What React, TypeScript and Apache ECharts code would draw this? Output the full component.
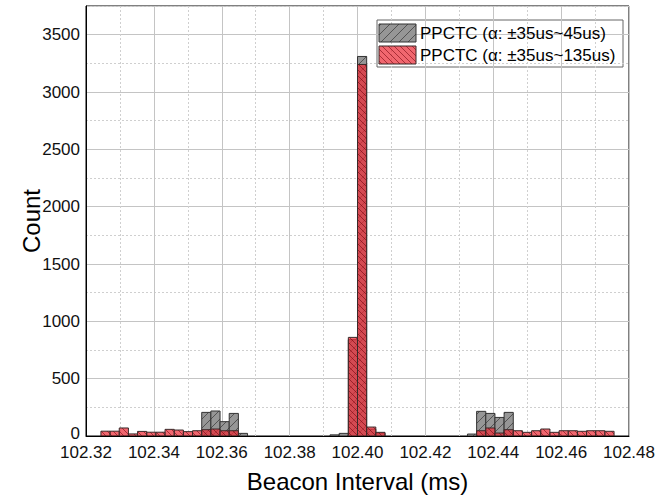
import React, { useEffect, useRef } from "react";
import * as echarts from "echarts";

// Histogram bins (left edge, ms) and counts
const BIN_WIDTH = 0.0027;
const binStarts = [
  102.3244, 102.3271, 102.3298, 102.3325, 102.3352, 102.3379, 102.3406, 102.3433,
  102.346, 102.3487, 102.3514, 102.3541, 102.3568, 102.3595, 102.3622, 102.3649,
  102.3919, 102.3946, 102.3973, 102.4, 102.4027, 102.4054,
  102.4324, 102.4351, 102.4378, 102.4405, 102.4432, 102.4459, 102.4486, 102.4513,
  102.454, 102.4567, 102.4594, 102.4621, 102.4648, 102.4675, 102.4702, 102.4729,
];
const grayCounts = [
  0, 0, 0, 0, 0, 0, 0, 0,
  0, 0, 0, 206, 218, 125, 197, 23,
  10, 23, 840, 3310, 60, 25,
  17, 215, 197, 162, 206, 0, 0, 0,
  0, 0, 0, 0, 0, 0, 0, 0,
];
const redCounts = [
  42, 42, 70, 18, 40, 33, 33, 58,
  52, 38, 46, 55, 61, 46, 46, 0,
  0, 0, 860, 3240, 78, 32,
  0, 46, 70, 26, 55, 46, 32, 46,
  61, 32, 46, 46, 41, 46, 46, 41,
];
const seriesNames = ["PPCTC (\u03b1: \u00b135us~45us)", "PPCTC (\u03b1: \u00b135us~135us)"];
const xTitle = "Beacon Interval (ms)";
const yTitle = "Count";

const FONT = '"Liberation Sans", Arial, Helvetica, sans-serif';

const GRAY = { fill: "#969696", line: "rgba(60,60,60,0.75)", stroke: "#333333", spacing: 9, dir: 1 };
const RED = { fill: "rgba(235,45,55,0.72)", line: "rgba(110,0,10,0.55)", stroke: "#3a2a2a", spacing: 6, dir: -1 };

function hatch(x0: number, y0: number, x1: number, y1: number, s: number, dir: number) {
  const segs: number[][] = [];
  if (dir === 1) {
    const cmin = x0 + y0, cmax = x1 + y1;
    for (let c = Math.ceil(cmin / s) * s; c <= cmax; c += s) {
      const xa = Math.max(x0, c - y1), xb = Math.min(x1, c - y0);
      if (xb - xa > 0.4) segs.push([xa, c - xa, xb, c - xb]);
    }
  } else {
    const cmin = y0 - x1, cmax = y1 - x0;
    for (let c = Math.ceil(cmin / s) * s; c <= cmax; c += s) {
      const xa = Math.max(x0, y0 - c), xb = Math.min(x1, y1 - c);
      if (xb - xa > 0.4) segs.push([xa, xa + c, xb, xb + c]);
    }
  }
  return segs;
}

function hatchedRect(x: number, y: number, w: number, h: number, st: any, z2 = 0) {
  const lines = hatch(x, y, x + w, y + h, st.spacing, st.dir).map((s) => ({
    type: "line",
    shape: { x1: s[0], y1: s[1], x2: s[2], y2: s[3] },
    style: { stroke: st.line, lineWidth: 1 },
    z2,
  }));
  return [
    { type: "rect", shape: { x, y, width: w, height: h }, style: { fill: st.fill }, z2 },
    ...lines,
    { type: "rect", shape: { x, y, width: w, height: h }, style: { fill: "none", stroke: st.stroke, lineWidth: 1 }, z2 },
  ];
}

function makeSeries(name: string, counts: number[], st: any, z: number) {
  return {
    type: "custom",
    name,
    z,
    clip: true,
    data: binStarts.map((b, i) => [b, counts[i]]),
    renderItem: (params: any, api: any) => {
      const x0 = api.value(0);
      const cnt = api.value(1);
      if (!cnt) return { type: "group", children: [] };
      const p0 = api.coord([x0, 0]);
      const p1 = api.coord([x0 + BIN_WIDTH, cnt]);
      const left = p0[0], right = p1[0], top = p1[1], bottom = p0[1];
      return { type: "group", children: hatchedRect(left, top, right - left, bottom - top, st) };
    },
  };
}

export default function App() {
  const ref = useRef<HTMLDivElement>(null);
  useEffect(() => {
    if (!ref.current) return;
    const chart = echarts.init(ref.current, null, { renderer: "svg" });
    const legendX = 377, legendY = 20;
    const option: any = {
      animation: false,
      backgroundColor: "#ffffff",
      textStyle: { fontFamily: FONT },
      grid: { left: 86, right: 41, top: 6, bottom: 61, show: true, borderColor: "#000", borderWidth: 1, backgroundColor: "transparent" },
      xAxis: {
        type: "value",
        min: 102.32,
        max: 102.48,
        interval: 0.02,
        name: xTitle,
        nameLocation: "middle",
        nameGap: 33,
        nameMoveOverlap: false,
        nameTextStyle: { fontSize: 24, color: "#000", fontFamily: FONT },
        axisLine: { show: true, lineStyle: { color: "#000", width: 1 } },
        axisTick: { show: false },
        axisLabel: { fontSize: 17, color: "#111", margin: 8, fontFamily: FONT, formatter: (v: number) => v.toFixed(2) },
        splitLine: { show: true, lineStyle: { color: "#c4c4c4", width: 1 } },
        minorTick: { show: false, splitNumber: 2 },
        minorSplitLine: { show: true, lineStyle: { color: "#cfcfcf", type: [2, 2], width: 1 } },
      },
      yAxis: [
        {
          type: "value",
          min: 0,
          max: 3750,
          interval: 500,
          name: yTitle,
          nameLocation: "middle",
          nameGap: 43,
          nameMoveOverlap: false,
          nameTextStyle: { fontSize: 24, color: "#000", fontFamily: FONT },
          axisLine: { show: true, lineStyle: { color: "#000", width: 1 } },
          axisTick: { show: false },
          axisLabel: {
            fontSize: 17,
            color: "#111",
            margin: 6,
            fontFamily: FONT,
            showMaxLabel: false,
            formatter: (v: number) => (v === 0 ? "{z|0}" : String(v)),
            rich: { z: { fontSize: 17, fontFamily: FONT, color: "#111", padding: [0, 0, 6, 0] } },
          },
          splitLine: { show: true, lineStyle: { color: "#c4c4c4", width: 1 } },
        },
        {
          type: "value",
          min: 0,
          max: 3750,
          interval: 250,
          position: "left",
          axisLine: { show: false },
          axisTick: { show: false },
          axisLabel: { show: false },
          splitLine: { show: true, lineStyle: { color: ["transparent", "#cfcfcf"], type: [2, 2], width: 1 } },
        },
      ],
      series: [makeSeries(seriesNames[0], grayCounts, GRAY, 2), makeSeries(seriesNames[1], redCounts, RED, 3)],
      graphic: [
        {
          type: "group",
          z: 100,
          children: [
            { type: "rect", shape: { x: legendX, y: legendY, width: 246, height: 47 }, style: { fill: "#fff", stroke: "#666", lineWidth: 1 } },
            ...hatchedRect(legendX + 2, legendY + 4, 37, 18, GRAY, 1),
            ...hatchedRect(legendX + 2, legendY + 26, 37, 18, RED, 1),
            { type: "text", x: legendX + 43, y: legendY + 13, style: { text: seriesNames[0], fontSize: 17, fontFamily: FONT, fill: "#000", verticalAlign: "middle", align: "left" }, z2: 2 },
            { type: "text", x: legendX + 43, y: legendY + 35, style: { text: seriesNames[1], fontSize: 17, fontFamily: FONT, fill: "#000", verticalAlign: "middle", align: "left" }, z2: 2 },
          ],
        },
      ],
    };
    chart.setOption(option);
    return () => chart.dispose();
  }, []);
  return <div ref={ref} style={{ position: "fixed", left: 0, top: 0, width: 670, height: 498 }} />;
}
